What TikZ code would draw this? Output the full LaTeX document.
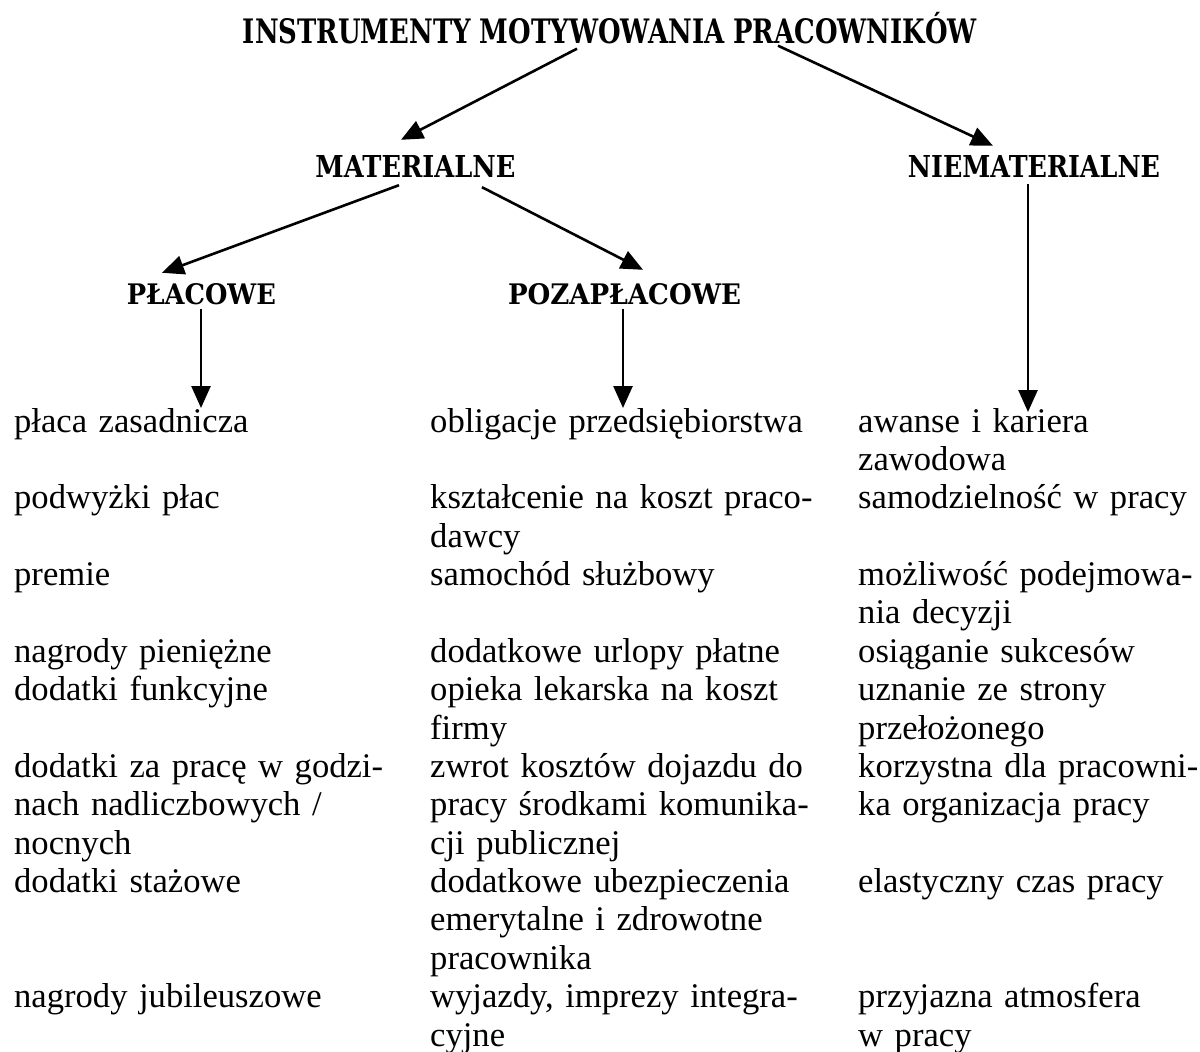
\documentclass[tikz,border=0pt]{standalone}
\usepackage{fontspec}
\setmainfont{Liberation Serif}
\newfontfamily\hdrfont{DejaVu Serif}
\usetikzlibrary{arrows.meta}
\begin{document}
\begin{tikzpicture}[x=1pt,y=-1pt,
  hdr/.style={inner sep=0pt, anchor=base},
  item/.style={inner sep=0pt, anchor=base west, text width=420pt, align=left,
    font=\fontsize{34.6}{38.375}\selectfont},
  arr/.style={line width=2.6pt, -{Triangle[length=22pt,width=19pt]}}]
\useasboundingbox (0,0) rectangle (1200,1052);
% headers
\node[hdr] (title) at (610,43) {\resizebox{734pt}{25pt}{\hdrfont\bfseries INSTRUMENTY MOTYWOWANIA PRACOWNIK\smash{Ó}W}};
\node[hdr] (mat) at (415.5,177) {\resizebox{200pt}{22pt}{\hdrfont\bfseries MATERIALNE}};
\node[hdr] (niemat) at (1034,177) {\resizebox{252pt}{22pt}{\hdrfont\bfseries NIEMATERIALNE}};
\node[hdr] (plac) at (201.5,304) {\resizebox{149pt}{21pt}{\hdrfont\bfseries PŁACOWE}};
\node[hdr] (pozap) at (624.5,304) {\resizebox{233pt}{21pt}{\hdrfont\bfseries POZAPŁACOWE}};
% end points of the vertical arrows
\coordinate (placend) at (201,408);
\coordinate (pozapend) at (623,408);
\coordinate (niemend) at (1028,412);
% arrows
\draw[arr] ([xshift=-33pt,yshift=-5pt]title.south) -- ([xshift=-14.5pt,yshift=15pt]mat.north);
\draw[arr] ([xshift=168pt,yshift=-2pt]title.south) -- ([xshift=-41pt,yshift=9pt]niemat.north);
\draw[arr] ([xshift=-16.5pt,yshift=-8pt]mat.south) -- ([xshift=-39.5pt,yshift=10pt]plac.north);
\draw[arr] ([xshift=66.5pt,yshift=-10pt]mat.south) -- ([xshift=18.5pt,yshift=13pt]pozap.north);
\draw[arr] ([xshift=-0.5pt,yshift=-4pt]plac.south) -- (placend);
\draw[arr] ([xshift=-1.5pt,yshift=-4pt]pozap.south) -- (pozapend);
\draw[arr] ([xshift=-6pt,yshift=-7pt]niemat.south) -- (niemend);
% left column
\node[item] (l1) at (14,432) {płaca zasadnicza};
\node[item] (l2) at (14,508.75) {podwyżki płac};
\node[item] (l3) at (14,585.5) {premie};
\node[item] (l4) at (14,662.25) {nagrody pieniężne};
\node[item] (l5) at (14,700.625) {dodatki funkcyjne};
\node[item] (l6) at (14,777.375) {dodatki za pracę w godzi-\\nach nadliczbowych /\\nocnych};
\node[item] (l7) at (14,892.5) {dodatki stażowe};
\node[item] (l8) at (14,1007.625) {nagrody jubileuszowe};
% middle column
\node[item] (m1) at (430,432) {obligacje przedsiębiorstwa};
\node[item] (m2) at (430,508.75) {kształcenie na koszt praco-\\dawcy};
\node[item] (m3) at (430,585.5) {samochód służbowy};
\node[item] (m4) at (430,662.25) {dodatkowe urlopy płatne};
\node[item] (m5) at (430,700.625) {opieka lekarska na koszt\\firmy};
\node[item] (m6) at (430,777.375) {zwrot kosztów dojazdu do\\pracy środkami komunika-\\cji publicznej};
\node[item] (m7) at (430,892.5) {dodatkowe ubezpieczenia\\emerytalne i zdrowotne\\pracownika};
\node[item] (m8) at (430,1007.625) {wyjazdy, imprezy integra-\\cyjne};
% right column
\node[item] (r1) at (858,432) {awanse i kariera\\zawodowa};
\node[item] (r2) at (858,508.75) {samodzielność w pracy};
\node[item] (r3) at (858,585.5) {możliwość podejmowa-\\nia decyzji};
\node[item] (r4) at (858,662.25) {osiąganie sukcesów};
\node[item] (r5) at (858,700.625) {uznanie ze strony\\przełożonego};
\node[item] (r6) at (858,777.375) {korzystna dla pracowni-\\ka organizacja pracy};
\node[item] (r7) at (858,892.5) {elastyczny czas pracy};
\node[item] (r8) at (858,1007.625) {przyjazna atmosfera\\w pracy};
\end{tikzpicture}
\end{document}
